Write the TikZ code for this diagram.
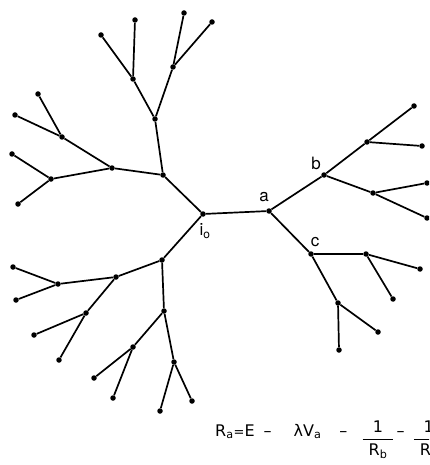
\documentclass[tikz,border=0pt]{standalone}
\usepackage{amsmath}
\usepackage{fontspec}
\setmainfont{TeX Gyre Heros}
\newfontfamily\formfont{DejaVu Sans}

\begin{document}
\begin{tikzpicture}[x=1pt, y=-1pt,
    dot/.style={circle, fill=black, inner sep=0pt, minimum size=5.5pt},
    branch/.style={line width=1.7pt},
    lbl/.style={font=\fontsize{17}{19}\selectfont, inner sep=0pt}]

    % Fix the page size
    \useasboundingbox (0,0) rectangle (429,465);
    \clip (0,0) rectangle (429,465);

    % Place the vertices of the tree
    \foreach \n/\x/\y in {i0/203/214, a/269/211,
        u/163/175, ua/155/119, uaa/133/79, uaa1/101/35, uaa2/135/20,
        uab/173/67, uab1/184/13, uab2/212/22,
        ub/112/168, uba/62/137, uba1/38/94, uba2/15/115,
        ubb/51/179, ubb1/12/154, ubb2/18/204,
        l/162/260, la/116/277, laa/58/284, laa1/13/267, laa2/16/300,
        lab/86/313, lab1/34/335, lab2/59/360,
        lb/164/311, lba/133/347, lba1/94/378, lba2/113/398,
        lbb/174/362, lbb1/160/411, lbb2/192/401,
        b/324/175, ba/367/142, ba1/414/106, ba2/422/146,
        bb/373/193, bb1/427/183, bb2/427/218,
        c/311/254, ca/366/254, ca1/420/269, ca2/393/299,
        cb/338/303, cb1/378/332, cb2/339/350}
        \node[dot] (\n) at (\x,\y) {};

    % Draw the branches
    \foreach \p/\q in {i0/a, i0/u, i0/l,
        u/ua, ua/uaa, uaa/uaa1, uaa/uaa2, ua/uab, uab/uab1, uab/uab2,
        u/ub, ub/uba, uba/uba1, uba/uba2, ub/ubb, ubb/ubb1, ubb/ubb2,
        l/la, la/laa, laa/laa1, laa/laa2, la/lab, lab/lab1, lab/lab2,
        l/lb, lb/lba, lba/lba1, lba/lba2, lb/lbb, lbb/lbb1, lbb/lbb2,
        a/b, b/ba, ba/ba1, ba/ba2, b/bb, bb/bb1, bb/bb2,
        a/c, c/ca, ca/ca1, ca/ca2, c/cb, cb/cb1, cb/cb2}
        \draw[branch] (\p) -- (\q);

    % Label the vertices
    \node[lbl] (li0) at (205,231) {i\textsubscript{o}};
    \node[lbl] (lbla) at (264,197) {a};
    \node[lbl] (lblb) at (316,163) {b};
    \node[lbl] (lblc) at (315,242) {c};

    % Formula at the bottom, cut by the right edge
    \node[anchor=base west, inner sep=0pt, font=\formfont\fontsize{16}{19}\selectfont] (formula) at (215,436)
        {R\textsubscript{a}{\fontsize{13}{13}\selectfont=}E\hspace{9pt}–\hspace{22pt}λV\textsubscript{a}\hspace{18pt}–\hspace{14pt}%
         \raisebox{-8pt}{$\dfrac{\text{1}}{\hspace{6pt}\text{R}_{\text{b}}\hspace{6pt}}$}\hspace{2pt}–\hspace{8pt}%
         \raisebox{-8pt}{$\dfrac{\text{1}}{\hspace{6pt}\text{R}_{\text{c}}\hspace{6pt}}$}};

\end{tikzpicture}
\end{document}
